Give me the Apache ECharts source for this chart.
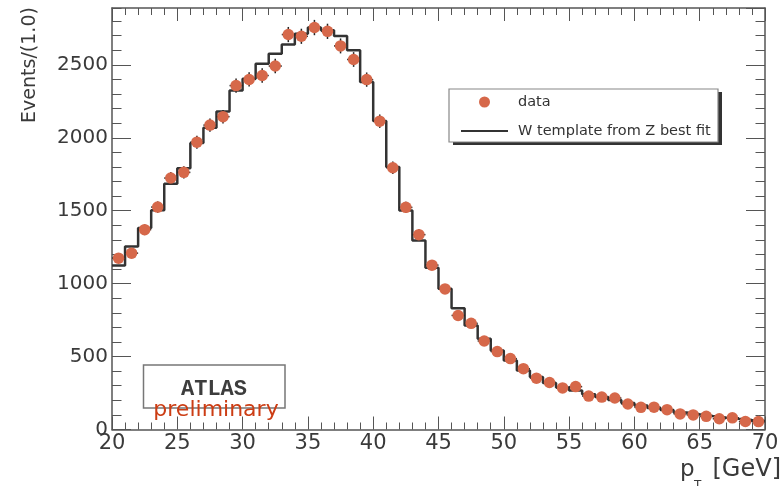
<!DOCTYPE html>
<html>
<head>
<meta charset="utf-8">
<title>W pT template fit</title>
<script src="https://cdn.jsdelivr.net/npm/echarts@6/dist/echarts.min.js"></script>
<style>
  html, body { margin: 0; padding: 0; background: #fff; }
  #chart { width: 782px; height: 486px; }
</style>
</head>
<body>
<div id="chart"></div>
<script>
// Bin centres of the 1 GeV wide pT bins (20–70 GeV)
const binCenters = [
  20.5, 21.5, 22.5, 23.5, 24.5, 25.5, 26.5, 27.5, 28.5, 29.5,
  30.5, 31.5, 32.5, 33.5, 34.5, 35.5, 36.5, 37.5, 38.5, 39.5,
  40.5, 41.5, 42.5, 43.5, 44.5, 45.5, 46.5, 47.5, 48.5, 49.5,
  50.5, 51.5, 52.5, 53.5, 54.5, 55.5, 56.5, 57.5, 58.5, 59.5,
  60.5, 61.5, 62.5, 63.5, 64.5, 65.5, 66.5, 67.5, 68.5, 69.5
];

// Observed events per bin
const dataCounts = [
  1175, 1209, 1370, 1525, 1724, 1763, 1970, 2087, 2145, 2358,
  2400, 2427, 2492, 2708, 2696, 2756, 2730, 2630, 2537, 2399,
  2114, 1795, 1523, 1336, 1127, 964, 782, 728, 607, 534,
  486, 417, 352, 322, 285, 294, 229, 222, 216, 175,
  152, 153, 136, 107, 100, 90, 74, 80, 55, 54
];

// W template from the Z best fit, per bin
const templateCounts = [
  1125, 1255, 1381, 1503, 1685, 1792, 1964, 2069, 2181, 2325,
  2405, 2508, 2577, 2639, 2713, 2757, 2737, 2698, 2600, 2382,
  2115, 1799, 1502, 1296, 1109, 965, 832, 713, 622, 542,
  473, 405, 360, 318, 288, 268, 242, 222, 203, 182,
  164, 148, 133, 117, 104, 93, 83, 74, 66, 59
];

const xTicks = [20, 25, 30, 35, 40, 45, 50, 55, 60, 65, 70];
const yTicks = [0, 500, 1000, 1500, 2000, 2500];

const seriesNames = ['data', 'W template from Z best fit'];

const FONT = 'DejaVu Sans';
const AXIS_COLOR = '#555';
const TEXT_COLOR = '#3a3a3a';
const DOT_COLOR = '#d6684a';

const halfBin = (binCenters[1] - binCenters[0]) / 2;
const xMin = xTicks[0], xMax = xTicks[xTicks.length - 1];
const yMax = 2890;

// Histogram outline: one point per lower bin edge, closed at the last upper edge
const stepPoints = templateCounts.map((v, i) => [binCenters[i] - halfBin, v]);
stepPoints.push([binCenters[binCenters.length - 1] + halfBin, templateCounts[templateCounts.length - 1]]);

const points = binCenters.map((x, i) => [x, dataCounts[i]]);

function frameX(pos, showLabels) {
  return {
    type: 'value', position: pos, min: xMin, max: xMax, interval: xTicks[1] - xTicks[0],
    axisLine: { show: true, onZero: false, lineStyle: { color: AXIS_COLOR, width: 1.5 } },
    axisTick: { show: true, inside: true, length: 13, lineStyle: { color: AXIS_COLOR, width: 1 } },
    minorTick: { show: true, splitNumber: 5, length: 7, lineStyle: { color: AXIS_COLOR, width: 1 } },
    axisLabel: {
      show: showLabels, margin: 4, fontFamily: FONT, fontSize: 21, color: TEXT_COLOR,
      customValues: xTicks
    },
    splitLine: { show: false }
  };
}

function frameY(pos, major, showLabels) {
  return {
    type: 'value', position: pos, min: 0, max: yMax, interval: major ? 500 : 100,
    axisLine: { show: major, onZero: false, lineStyle: { color: AXIS_COLOR, width: 1.5 } },
    axisTick: { show: true, inside: true, length: major ? 19 : 9.5, lineStyle: { color: AXIS_COLOR, width: 1 } },
    axisLabel: {
      show: showLabels, margin: 4, fontFamily: FONT, fontSize: 20, color: TEXT_COLOR,
      showMaxLabel: false,
      formatter: v => (yTicks.indexOf(v) >= 0 ? String(v) : '')
    },
    splitLine: { show: false }
  };
}

// Legend frame geometry (box plus a hard drop shadow)
const legendBox = { x: 449, y: 89, width: 269, height: 53 };

const chart = echarts.init(document.getElementById('chart'), null, { renderer: 'canvas' });

chart.setOption({
  backgroundColor: '#ffffff',
  animation: false,
  grid: { left: 112, top: 8, width: 653, height: 421.5, containLabel: false },
  xAxis: [frameX('bottom', true), frameX('top', false)],
  yAxis: [
    frameY('left', true, true),
    frameY('left', false, false),
    frameY('right', true, false),
    frameY('right', false, false)
  ],
  legend: {
    data: [
      { name: seriesNames[0] },
      { name: seriesNames[1], itemStyle: { opacity: 0 } }
    ],
    orient: 'vertical',
    left: legendBox.x, top: legendBox.y,
    padding: [5.5, 8, 4, 11],
    itemWidth: 47, itemHeight: 11, itemGap: 14,
    backgroundColor: 'transparent',
    borderWidth: 0,
    textStyle: { fontFamily: FONT, fontSize: 14.5, color: '#333', padding: [0, 0, 0, 5] },
    selectedMode: false,
    z: 20
  },
  series: [
    {
      name: seriesNames[1],
      type: 'line',
      data: stepPoints,
      step: 'end',
      symbol: 'none',
      lineStyle: { color: '#333', width: 2.5 },
      itemStyle: { color: '#333' },
      z: 2
    },
    {
      name: 'errors',
      type: 'custom',
      data: points,
      encode: { x: 0, y: 1 },
      z: 3,
      renderItem: (params, api) => {
        const x = api.value(0), y = api.value(1);
        const err = Math.sqrt(y);
        const top = api.coord([x, y + err]);
        const bot = api.coord([x, y - err]);
        const lft = api.coord([x - halfBin, y]);
        const rgt = api.coord([x + halfBin, y]);
        const st = { stroke: '#222', lineWidth: 1.5 };
        return {
          type: 'group',
          children: [
            { type: 'line', shape: { x1: top[0], y1: top[1], x2: bot[0], y2: bot[1] }, style: st },
            { type: 'line', shape: { x1: lft[0], y1: lft[1], x2: rgt[0], y2: rgt[1] }, style: st }
          ]
        };
      }
    },
    {
      name: seriesNames[0],
      type: 'scatter',
      data: points,
      symbol: 'circle',
      symbolSize: 11.5,
      itemStyle: { color: DOT_COLOR, opacity: 1 },
      z: 4
    }
  ],
  graphic: [
    // legend shadow and frame
    {
      type: 'rect', z: 15,
      shape: { x: legendBox.x + 4, y: legendBox.y + 3, width: legendBox.width, height: legendBox.height },
      style: { fill: '#333' }
    },
    {
      type: 'rect', z: 16,
      shape: { x: legendBox.x, y: legendBox.y, width: legendBox.width, height: legendBox.height },
      style: { fill: '#fff', stroke: '#888', lineWidth: 1.2 }
    },
    // y-axis title
    {
      type: 'text', x: 30, y: 65, rotation: Math.PI / 2,
      style: { text: 'Events/(1.0)', align: 'center', verticalAlign: 'middle',
               font: '19px "' + FONT + '"', fill: TEXT_COLOR }
    },
    // x-axis title: p_T [GeV]
    {
      type: 'text', x: 680, y: 470,
      style: { text: 'p', align: 'left', verticalAlign: 'middle',
               font: '23px "' + FONT + '"', fill: TEXT_COLOR }
    },
    {
      type: 'text', x: 694, y: 486,
      style: { text: 'T', align: 'left', verticalAlign: 'middle',
               font: '12px "' + FONT + '"', fill: TEXT_COLOR }
    },
    {
      type: 'text', x: 781, y: 470,
      style: { text: '[GeV]', align: 'right', verticalAlign: 'middle',
               font: '24px "' + FONT + '"', fill: TEXT_COLOR }
    },
    // ATLAS preliminary label box
    {
      type: 'rect', shape: { x: 143.5, y: 365, width: 141.5, height: 43 },
      style: { fill: 'transparent', stroke: '#777', lineWidth: 1.5 }, z: 10
    },
    {
      type: 'text', x: 214, y: 389,
      style: { text: 'ATLAS', align: 'center', verticalAlign: 'middle',
               font: 'bold 22px "Liberation Mono"', fill: '#3d3d3d' }, z: 11
    },
    {
      type: 'text', x: 216, y: 410,
      style: { text: 'preliminary', align: 'center', verticalAlign: 'middle',
               font: '22px "' + FONT + '"', fill: '#cc3d14' }, z: 11
    }
  ]
});
</script>
</body>
</html>
